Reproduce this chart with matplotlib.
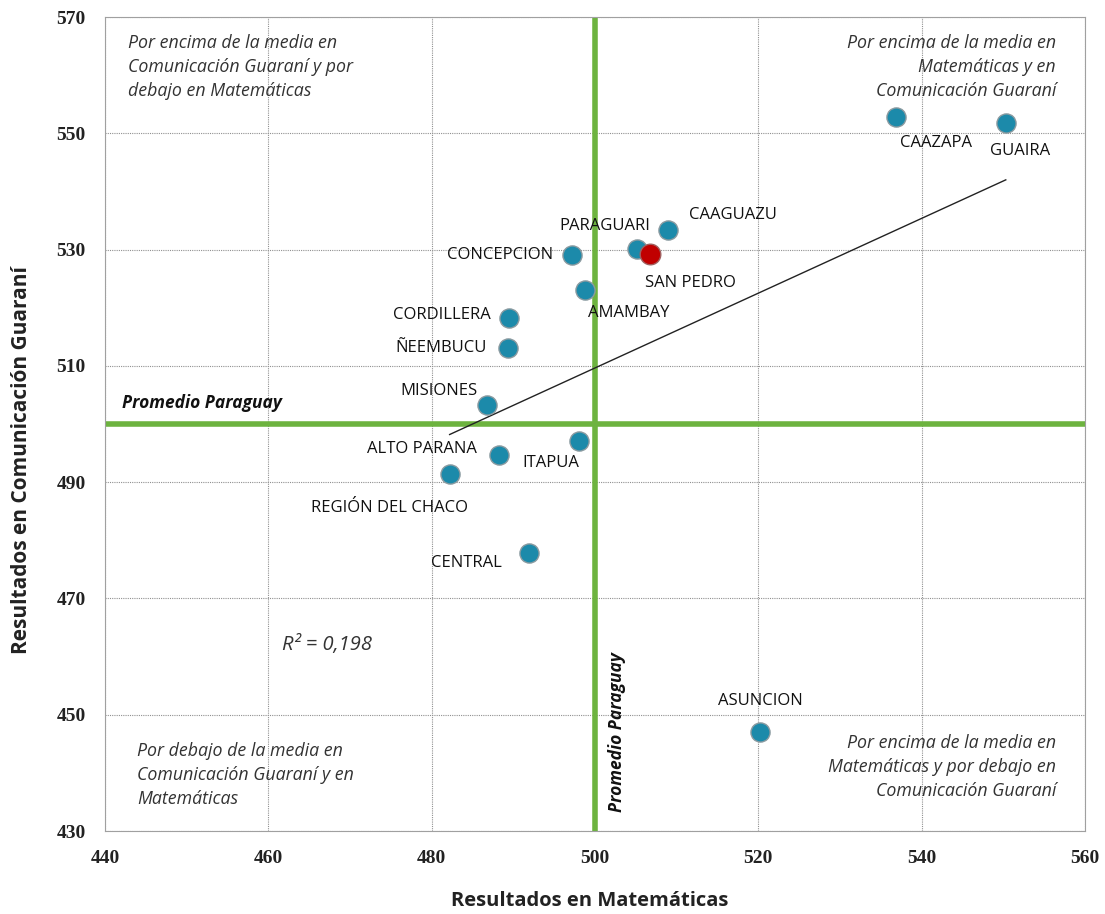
import numpy as np
import matplotlib
matplotlib.use("Agg")
import matplotlib.pyplot as plt

# ---- data ----
departments = ["CAAZAPA", "GUAIRA", "CAAGUAZU", "PARAGUARI", "CONCEPCION", "AMAMBAY",
               "CORDILLERA", "ÑEEMBUCU", "MISIONES", "ITAPUA", "ALTO PARANA",
               "REGIÓN DEL CHACO", "CENTRAL", "ASUNCION"]
math_scores = [536.9, 550.3, 508.9, 505.1, 497.2, 498.8,
               489.5, 489.3, 486.8, 498.0, 488.2,
               482.2, 491.9, 520.2]
guarani_scores = [552.8, 551.8, 533.4, 530.1, 529.1, 523.0,
                  518.2, 513.1, 503.3, 497.1, 494.7,
                  491.4, 477.8, 447.0]
highlight_name = "SAN PEDRO"
highlight_math = 506.7
highlight_guarani = 529.2
mean_math = 500
mean_guarani = 500
r2_text = "R² = 0,198"
xticks = [440, 460, 480, 500, 520, 540, 560]
yticks = [430, 450, 470, 490, 510, 530, 550, 570]

# label offsets in pixels (dx, dy), alignment
label_pos = {
    "CAAZAPA": (40, -26, "center"),
    "GUAIRA": (14, -28, "center"),
    "CAAGUAZU": (65, 15, "center"),
    "PARAGUARI": (-32, 23, "center"),
    "CONCEPCION": (-19, 0, "right"),
    "AMAMBAY": (44, -23, "center"),
    "CORDILLERA": (-19, 3, "right"),
    "ÑEEMBUCU": (-21, 0, "right"),
    "MISIONES": (-10, 14, "right"),
    "ITAPUA": (-28, -22, "center"),
    "ALTO PARANA": (-22, 6, "right"),
    "REGIÓN DEL CHACO": (-60, -34, "center"),
    "CENTRAL": (-62, -10, "center"),
    "ASUNCION": (0, 31, "center"),
    "SAN PEDRO": (41, -29, "center"),
}

fig = plt.figure(figsize=(11.05, 9.14), dpi=100)
ax = fig.add_axes([105/1105, 1-831/914, 980/1105, 814/914])
ax.set_xlim(440, 560)
ax.set_ylim(430, 570)
ax.set_xticks(xticks)
ax.set_yticks(yticks)
ax.grid(True, color="#909090", linestyle=(0, (1, 1)), linewidth=0.8)
for s in ax.spines.values():
    s.set_color("#a0a0a0")
    s.set_linestyle((0, (1, 1)))
    s.set_linewidth(0.8)
ax.tick_params(length=0, pad=14)
for lab in ax.get_xticklabels() + ax.get_yticklabels():
    lab.set_fontfamily("Liberation Serif")
    lab.set_fontweight("bold")
    lab.set_fontsize(14)
    lab.set_color("#222222")

# mean lines
ax.axvline(mean_math, color="#6DB33F", linewidth=4, zorder=2)
ax.axhline(mean_guarani, color="#6DB33F", linewidth=4, zorder=2)

# trend line (linear fit on department series)
xs = np.array(math_scores)
ys = np.array(guarani_scores)
b, a = np.polyfit(xs, ys, 1)
xl = np.array([xs.min(), xs.max()])
ax.plot(xl, a + b * xl, color="#222222", linewidth=1, zorder=3)

ax.scatter(math_scores, guarani_scores, s=190, color="#1C8AAA", edgecolor="#8a9aa0",
           linewidth=1, zorder=4)
ax.scatter([highlight_math], [highlight_guarani], s=220, color="#C00000",
           edgecolor="#a06060", linewidth=1, zorder=5)

lab_font = dict(family="Open Sans", fontsize=12, color="#111111")
allnames = departments + [highlight_name]
allx = math_scores + [highlight_math]
ally = guarani_scores + [highlight_guarani]
for n, x, y in zip(allnames, allx, ally):
    dx, dy, ha = label_pos[n]
    ax.annotate(n, (x, y), xytext=(dx, dy), textcoords="offset pixels",
                ha=ha, va="center", zorder=6, **lab_font)

q_font = dict(family="Open Sans", fontsize=12.8, style="italic", color="#333333",
              linespacing=1.42)
ax.text(0.0235, 0.9386,
        "Por encima de la media en\nComunicación Guaraní y por\ndebajo en Matemáticas",
        transform=ax.transAxes, ha="left", va="center", **q_font)
ax.text(0.9704, 0.9386,
        "Por encima de la media en\nMatemáticas y en\nComunicación Guaraní",
        transform=ax.transAxes, ha="right", va="center", multialignment="right", **q_font)
ax.text(0.0327, 0.0688,
        "Por debajo de la media en\nComunicación Guaraní y en\nMatemáticas",
        transform=ax.transAxes, ha="left", va="center", **q_font)
ax.text(0.9704, 0.0786,
        "Por encima de la media en\nMatemáticas y por debajo en\nComunicación Guaraní",
        transform=ax.transAxes, ha="right", va="center", multialignment="right", **q_font)

ax.text(0.1806, 0.2285, r2_text, transform=ax.transAxes, ha="left", va="center",
        family="Open Sans", fontsize=14.5, style="italic", color="#333333")

ax.annotate("Promedio Paraguay", (440, mean_guarani), xytext=(17, 21),
            textcoords="offset pixels", ha="left", va="center",
            family="Open Sans", fontsize=12.5, style="italic", weight="bold", color="#111111")
ax.annotate("Promedio Paraguay", (mean_math, 430), xytext=(22, 19),
            textcoords="offset pixels", ha="center", va="bottom", rotation=90,
            family="Open Sans", fontsize=12.5, style="italic", weight="bold", color="#111111")

ax.set_xlabel("Resultados en Matemáticas", family="Open Sans", fontsize=14.5,
              weight="bold", color="#222222", labelpad=10)
ax.xaxis.set_label_coords(0.495, -0.074)
ax.set_ylabel("Resultados en Comunicación Guaraní", family="Open Sans", fontsize=15,
              weight="bold", color="#222222", labelpad=12)
ax.yaxis.set_label_coords(-0.0745, 0.456)

fig.savefig("out.png", dpi=100)
